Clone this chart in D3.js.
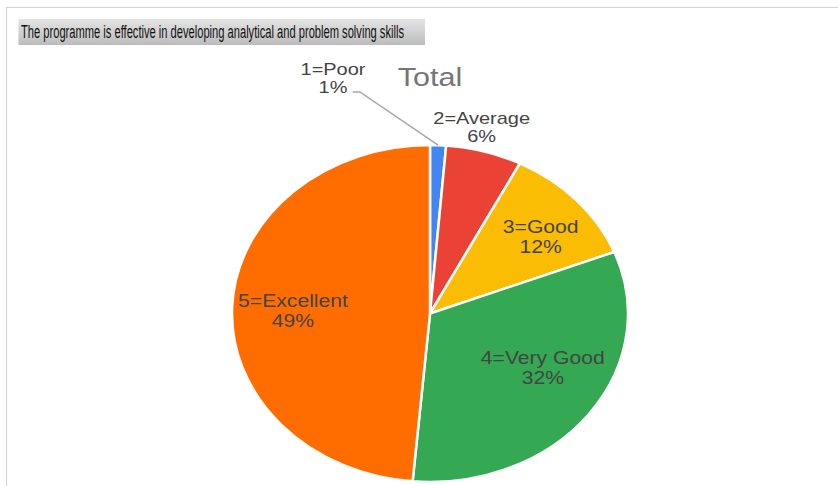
<!DOCTYPE html>
<html>
<head>
<meta charset="utf-8">
<script src="https://cdn.jsdelivr.net/npm/d3@7"></script>
<style>
  body { margin: 0; background: #fff; }
  svg { display: block; font-family: Arial, 'Liberation Sans', sans-serif; }
  .lbl { fill: #444; font-size: 18px; text-anchor: middle; }
  .lbl.out { font-size: 17px; }
</style>
</head>
<body>
<div id="chart"></div>
<script>
'use strict';

const W = 838, H = 486;

const chartTitle = 'The programme is effective  in developing analytical and problem solving skills';
const pieTitle = 'Total';
const categories = ['1=Poor', '2=Average', '3=Good', '4=Very Good', '5=Excellent'];
const values = [1.3, 6.2, 11.55, 32.35, 48.6];
const colors = ['#4285f4', '#ea4335', '#fbbc04', '#34a853', '#ff6d01'];

// the original picture is stretched horizontally, so draw the pie as a circle and squash it
const cx = 430, cy = 313.5, R = 168.5, SX = 1.175;

// small hand nudges (screen px) so the labels sit where the original put them
const nudge = [[0, 1.5], [0, -2], [11, 0], [5, -14], [-2.5, 2.5]];

const svg = d3.select('#chart').append('svg')
  .attr('width', W)
  .attr('height', H);

// frame (only top and left edges show)
svg.append('line')
  .attr('x1', 6).attr('x2', W).attr('y1', 7.5).attr('y2', 7.5)
  .attr('stroke', '#d3d3d3');
svg.append('line')
  .attr('x1', 6.5).attr('x2', 6.5).attr('y1', 7).attr('y2', H)
  .attr('stroke', '#d3d3d3');

// grey title bar
const grad = svg.append('defs').append('linearGradient')
  .attr('id', 'barGrad')
  .attr('x1', 0).attr('y1', 0).attr('x2', 0).attr('y2', 1);
grad.append('stop').attr('offset', '0%').attr('stop-color', '#e4e4e4');
grad.append('stop').attr('offset', '100%').attr('stop-color', '#bcbcbc');

svg.append('rect')
  .attr('x', 18.5).attr('y', 19)
  .attr('width', 406.5).attr('height', 26)
  .attr('fill', 'url(#barGrad)');

svg.append('text')
  .attr('x', 21)
  .attr('y', 37.5)
  .attr('font-size', 18)
  .attr('fill', '#111')
  .attr('textLength', 383)
  .attr('lengthAdjust', 'spacingAndGlyphs')
  .text(chartTitle);

const g = svg.append('g')
  .attr('transform', 'translate(' + cx + ',' + cy + ') scale(' + SX + ',1)');

g.append('text')
  .attr('x', 0)
  .attr('y', 86 - cy)
  .attr('text-anchor', 'middle')
  .attr('font-size', 26)
  .attr('fill', '#757575')
  .text(pieTitle);

const data = categories.map(function (c, i) {
  return { name: c, value: values[i], color: colors[i], nudge: nudge[i] };
});
const total = d3.sum(values);

const pie = d3.pie()
  .sort(null)
  .value(function (d) { return d.value; });

const arcs = pie(data);

const arc = d3.arc().innerRadius(0).outerRadius(R);
const inArc = d3.arc().innerRadius(R * 0.68).outerRadius(R * 0.68);
const outArc = d3.arc().innerRadius(R * 1.13).outerRadius(R * 1.13);
const edgeArc = d3.arc().innerRadius(R).outerRadius(R);

g.append('g').selectAll('path')
    .data(arcs)
  .enter().append('path')
    .attr('d', arc)
    .attr('fill', function (d) { return d.data.color; })
    .attr('stroke', '#fff')
    .attr('stroke-width', 2.5)
    .attr('vector-effect', 'non-scaling-stroke');

function pct(d) {
  return Math.round(d.data.value / total * 100) + '%';
}

// two lines, name then share, each its own text so they don't collide
function addLabel(x, y, d, gap, outside) {
  x += d.data.nudge[0] / SX;
  y += d.data.nudge[1];
  const cls = outside ? 'lbl out' : 'lbl';
  g.append('text')
    .attr('class', cls)
    .attr('x', x)
    .attr('y', y - 4)
    .text(d.data.name);
  g.append('text')
    .attr('class', cls)
    .attr('x', x)
    .attr('y', y - 4 + gap)
    .text(pct(d));
}

// big slices get the label inside, the small ones outside
arcs.forEach(function (d) {
  const share = d.data.value / total;
  if (share >= 0.1) {
    const c = inArc.centroid(d);
    addLabel(c[0], c[1], d, 20, false);
  } else if (share >= 0.03) {
    const c = outArc.centroid(d);
    addLabel(c[0] - 8, c[1], d, 18, true);
  } else {
    // no room: lift the label up-left and hang it on a leader line
    const e = edgeArc.centroid(d);
    const lx = -0.49 * R, ly = -1.40 * R;
    g.append('polyline')
      .attr('points', [[e[0], e[1]], [-0.354 * R, -1.315 * R], [-0.39 * R, -1.315 * R]].join(' '))
      .attr('fill', 'none')
      .attr('stroke', '#a6a6a6')
      .attr('stroke-width', 1.5)
      .attr('vector-effect', 'non-scaling-stroke');
    addLabel(lx, ly, d, 18, true);
  }
});
</script>
</body>
</html>
